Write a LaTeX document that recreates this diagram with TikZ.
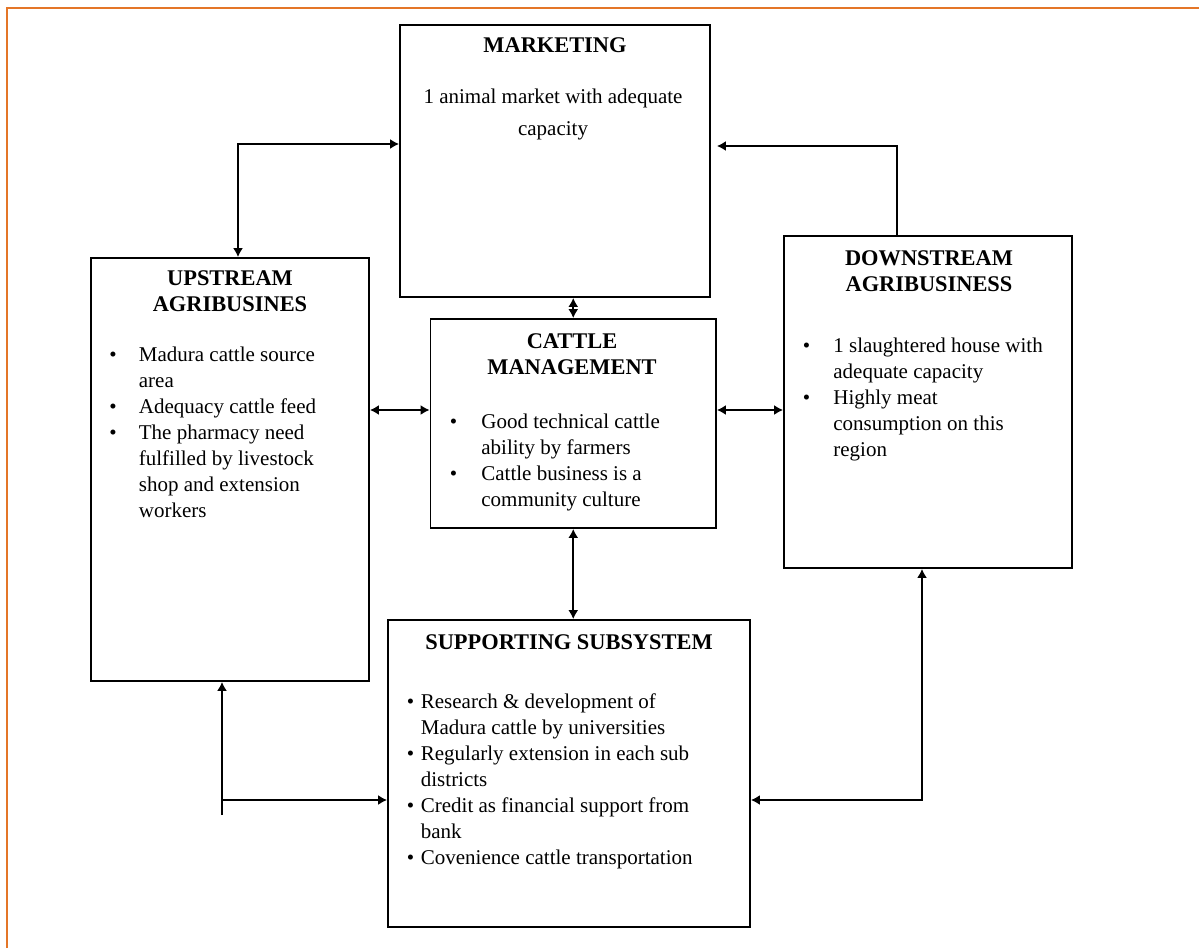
\documentclass[tikz,border=0pt]{standalone}
\usepackage{fontspec}
\setmainfont{Liberation Serif}
\usetikzlibrary{arrows.meta}

\definecolor{frameorange}{RGB}{228,118,40}

\begin{document}
\begin{tikzpicture}[
    x=0.5pt, y=-0.5pt,
    >={Latex[length=4.5pt,width=5pt]},
    box/.style={draw, line width=0.9pt, inner sep=0pt},
    title/.style={font=\fontsize{11.2}{13}\selectfont\bfseries, align=center},
    body/.style={font=\fontsize{10.5}{13}\selectfont, anchor=west, inner sep=0pt},
    con/.style={line width=0.85pt}
]
\useasboundingbox (0,0) rectangle (1199,948);

% Page frame (top and left only)
\draw[frameorange, line width=1pt] (7,948) -- (7,7.5) -- (1199,7.5);

% Subsystem boxes
\node[box, minimum width=155pt, minimum height=136pt] (mk) at (555,161) {};
\node[box, minimum width=139pt, minimum height=211.5pt] (up) at (230,469.5) {};
\node[box, minimum width=142.75pt, minimum height=104.5pt] (cm) at (573.25,423.5) {};
\node[box, minimum width=144pt, minimum height=166pt] (dn) at (928,402) {};
\node[box, minimum width=181pt, minimum height=153.5pt] (ss) at (569,773.5) {};

% Marketing
\node[title] (mkt) at (555,45) {MARKETING};
\node[font=\fontsize{10.5}{16}\selectfont, align=center] (mkb) at (553,114)
    {1 animal market with adequate\\capacity};

% Upstream agribusiness
\node[title] (upt) at (230,291.5) {UPSTREAM\\AGRIBUSINES};
\node[body] (upb) at (109,434) {\begin{tabular}{@{}p{14.75pt}@{}l@{}}
  \textbullet & Madura cattle source\\
              & area\\
  \textbullet & Adequacy cattle feed\\
  \textbullet & The pharmacy need\\
              & fulfilled by livestock\\
              & shop and extension\\
              & workers
\end{tabular}};

% Cattle management
\node[title] (cmt) at (572,354.5) {CATTLE\\MANAGEMENT};
\node[body] (cmb) at (449.5,462.5) {\begin{tabular}{@{}p{15.75pt}@{}l@{}}
  \textbullet & Good technical cattle\\
              & ability by farmers\\
  \textbullet & Cattle business is a\\
              & community culture
\end{tabular}};

% Downstream agribusiness
\node[title] (dnt) at (929,271) {DOWNSTREAM\\AGRIBUSINESS};
\node[body] (dnb) at (802.5,399.5) {\begin{tabular}{@{}p{15.25pt}@{}l@{}}
  \textbullet & 1 slaughtered house with\\
              & adequate capacity\\
  \textbullet & Highly meat\\
              & consumption on this\\
              & region
\end{tabular}};

% Supporting subsystem
\node[title] (sst) at (569,642) {SUPPORTING SUBSYSTEM};
\node[body] (ssb) at (406.5,781) {\begin{tabular}{@{}p{7pt}@{}l@{}}
  \textbullet & Research \& development of\\
              & Madura cattle by universities\\
  \textbullet & Regularly extension in each sub\\
              & districts\\
  \textbullet & Credit as financial support from\\
              & bank\\
  \textbullet & Covenience cattle transportation
\end{tabular}};

% Connector bends
\coordinate (k1) at (238,144);
\coordinate (k2) at (897,146);
\coordinate (k3) at (575,410);
\coordinate (k4) at (222,800);
\coordinate (k4s) at (222,815);
\coordinate (k5) at (922,800);

% Connectors
\draw[con, <->] (up.north -| k1) -- (k1) -- (mk.west |- k1);
\draw[con, ->, shorten >=3pt] (dn.north -| k2) -- (k2) -- (mk.east |- k2);
\draw[con, <->] (mk.south -| cm.north) -- (cm.north);
\draw[con, <->] (cm.south) -- (cm.south |- ss.north);
\draw[con, <->] (up.east |- k3) -- (cm.west |- k3);
\draw[con, <->] (cm.east |- k3) -- (dn.west |- k3);
\draw[con, ->] (k4s) -- (up.south -| k4);
\draw[con, ->] (k4) -- (ss.west |- k4);
\draw[con, <->] (ss.east |- k5) -- (k5) -- (dn.south -| k5);

\end{tikzpicture}
\end{document}
